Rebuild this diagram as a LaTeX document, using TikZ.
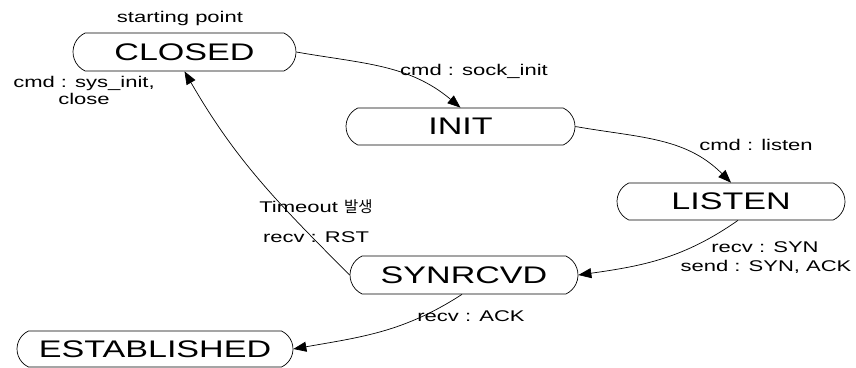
\documentclass[tikz,border=0pt]{standalone}
\usepackage{fontspec}
\setmainfont[FakeStretch=1.42]{Liberation Sans}
\newfontfamily\krfont{Noto Sans CJK KR}
\usetikzlibrary{shapes.misc,arrows.meta}
\tikzset{
  state/.style={draw, line width=0.7pt, rounded rectangle, rounded rectangle arc length=130,
    inner sep=0pt, font=\fontsize{24}{26}\selectfont},
  lab/.style={inner sep=0pt, font=\fontsize{15.5}{17}\selectfont, align=center},
  conn/.style={line width=0.7pt, -{Triangle[length=13pt,width=10pt]}}
}
\begin{document}
\begin{tikzpicture}[x=1pt,y=-1pt]
\useasboundingbox (0,0) rectangle (856,367);
\node[state, minimum width=223pt, minimum height=38pt] (closed) at (184.5,52) {CLOSED};
\node[state, minimum width=229pt, minimum height=37pt] (init) at (460.5,126.5) {INIT};
\node[state, minimum width=228pt, minimum height=37pt] (listen) at (731,201.5) {LISTEN};
\node[state, minimum width=228pt, minimum height=38pt] (synrcvd) at (464,275) {SYNRCVD};
\node[state, minimum width=276pt, minimum height=36pt] (estab) at (155,349) {ESTABLISHED};

\node[lab] (lstart) at (180,18) {starting point};
\node[lab] (lsys) at (84,90) {cmd : sys\_init,\\close};
\node[lab] (lsock) at (474,71) {cmd : sock\_init};
\node[lab] (llisten) at (756,145) {cmd : listen};
\node[lab] (ltime) at (316,207) {Timeout {\krfont 발생}};
\node[lab] (lrst) at (316,237) {recv : RST};
\node[lab] (lsyn) at (765,247) {recv : SYN};
\node[lab] (lsend) at (766,267) {send : SYN, ACK};
\node[lab] (lack) at (471,316) {recv : ACK};

\draw[conn] (closed.east) to[out=-10, in=140] (init.north);
\draw[conn] (init.east) to[out=-10, in=135] (listen.north);
\draw[conn] ([xshift=7pt]listen.south) to[out=215, in=8] (synrcvd.east);
\draw[conn] ([xshift=-2pt]synrcvd.south) to[out=213, in=10] (estab.east);
\draw[conn] (synrcvd.west) to[out=135, in=-60] (closed.south);
\end{tikzpicture}
\end{document}
